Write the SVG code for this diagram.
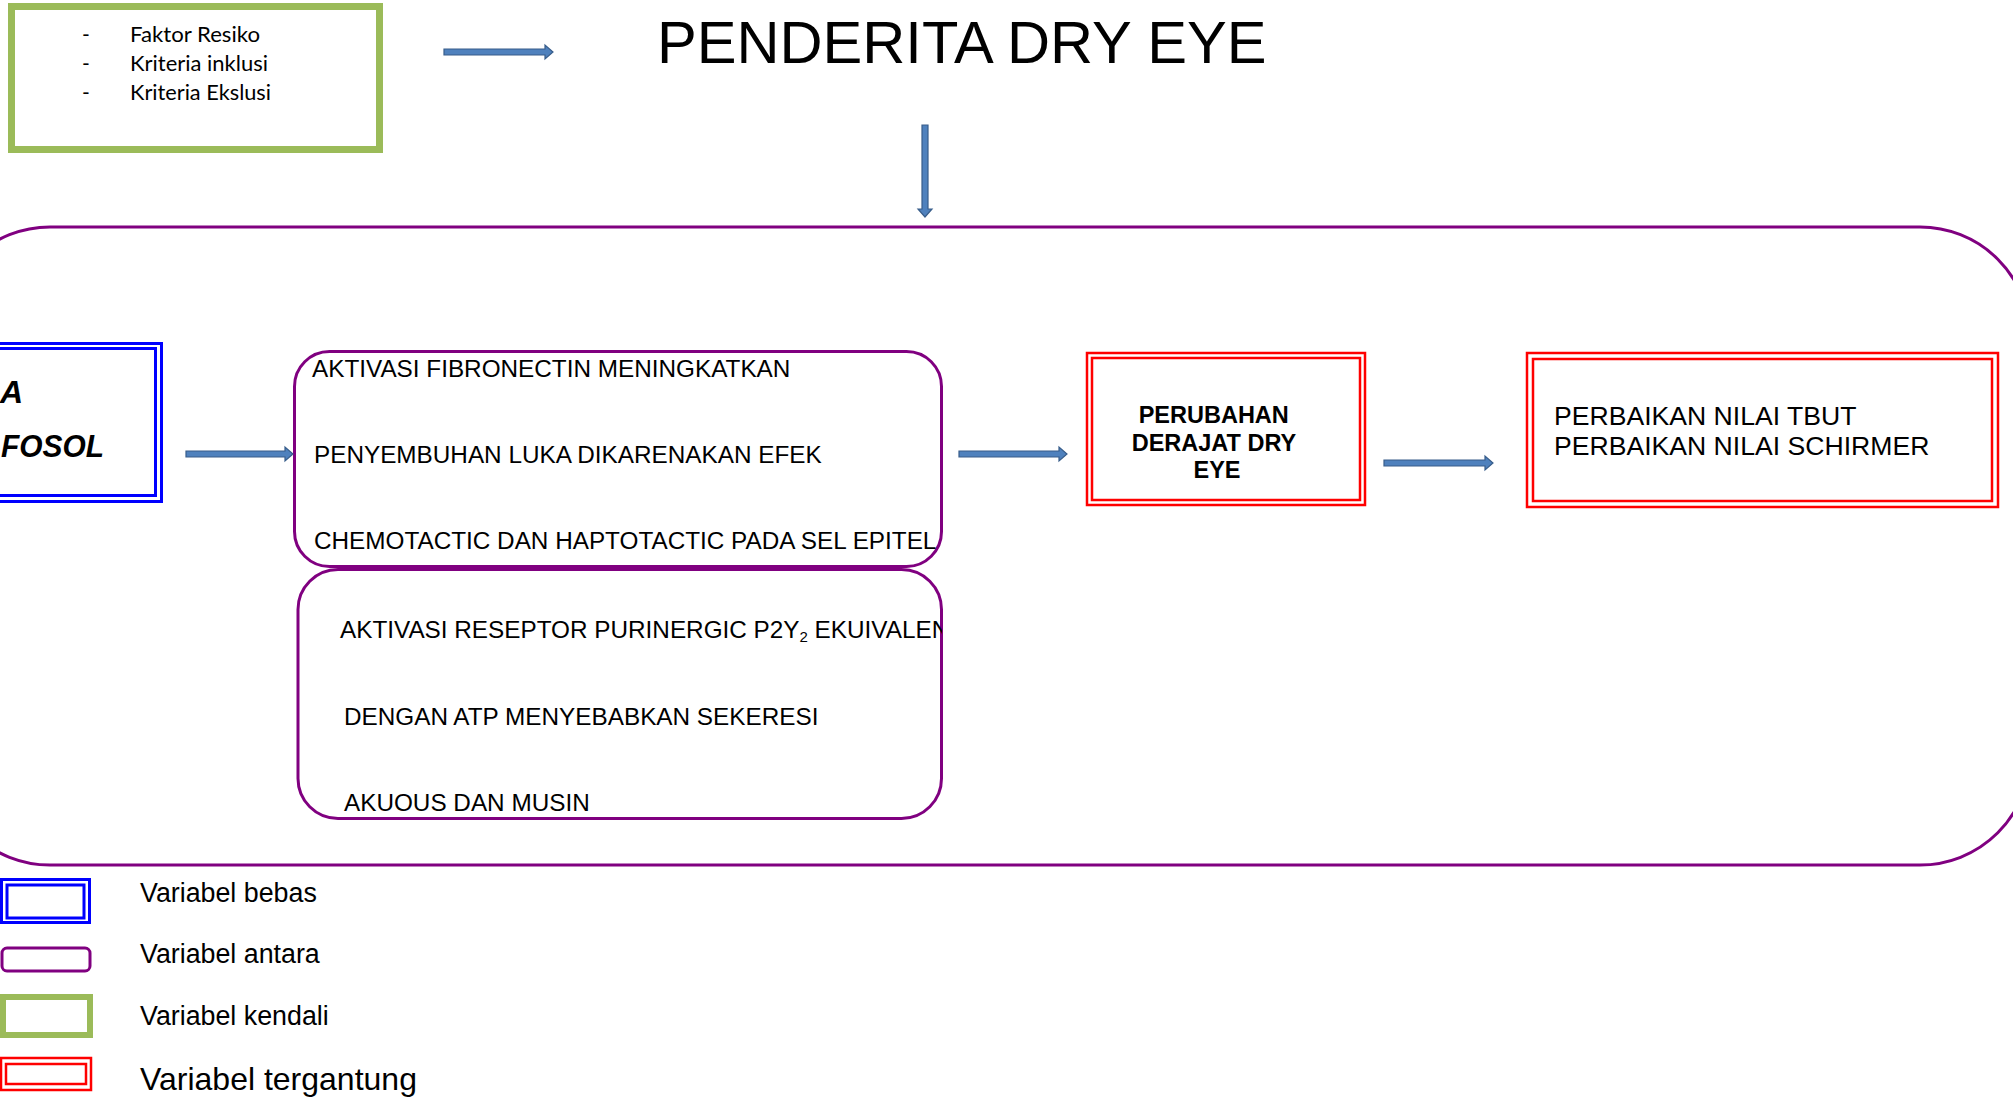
<svg xmlns="http://www.w3.org/2000/svg" width="2013" height="1099" viewBox="0 0 2013 1099">
<style>
.ar{fill:#4F81BD;stroke:#385D8A;stroke-width:1.2}
.pu{fill:none;stroke:#800080;stroke-width:3}
.bl{fill:none;stroke:#0000FF;stroke-width:3}
.rd{fill:none;stroke:#FF0000;stroke-width:2.5}
.gr{fill:none;stroke:#9BBB59;stroke-width:7}
.t{font-family:"Liberation Sans",Arial,sans-serif;fill:#000}
.c{font-family:Lato,"Open Sans","Liberation Sans",sans-serif;fill:#000;font-size:21px}
</style>
<defs>
<clipPath id="clip2"><rect x="297" y="568" width="645" height="251" rx="40"/></clipPath>
</defs>
<rect width="2013" height="1099" fill="#fff"/>

<g id="container">
<rect class="pu" x="-60" y="227" width="2090" height="638" rx="110" ry="110"/>
</g>

<g id="kendali">
<rect class="gr" x="11.5" y="6.5" width="368" height="143"/>
<text class="c" x="82" y="42">-</text>
<text class="c" x="130" y="42" textLength="130" lengthAdjust="spacingAndGlyphs">Faktor Resiko</text>
<text class="c" x="82" y="71">-</text>
<text class="c" x="130" y="71" textLength="138" lengthAdjust="spacingAndGlyphs">Kriteria inklusi</text>
<text class="c" x="82" y="100">-</text>
<text class="c" x="130" y="100" textLength="141" lengthAdjust="spacingAndGlyphs">Kriteria Ekslusi</text>
</g>

<g id="title">
<text class="t" x="657" y="63" font-size="59.6">PENDERITA DRY EYE</text>
</g>

<g id="bebas">
<rect class="bl" x="-20" y="343.5" width="181.5" height="158"/>
<rect class="bl" x="-20" y="348.5" width="175.5" height="147"/>
<text class="t" x="0" y="403" font-size="32" font-weight="bold" font-style="italic">A</text>
<text class="t" x="1" y="457" font-size="32" font-weight="bold" font-style="italic" textLength="103" lengthAdjust="spacingAndGlyphs">FOSOL</text>
</g>

<g id="antara1">
<rect class="pu" x="294.5" y="351.5" width="647" height="215" rx="35"/>
<text class="t" x="312" y="377" font-size="24.3">AKTIVASI FIBRONECTIN MENINGKATKAN</text>
<text class="t" x="314" y="463" font-size="24.3">PENYEMBUHAN LUKA DIKARENAKAN EFEK</text>
<text class="t" x="314" y="549" font-size="24.3">CHEMOTACTIC DAN HAPTOTACTIC PADA SEL EPITEL</text>
</g>

<g id="antara2">
<rect class="pu" x="298" y="569.5" width="643.5" height="249" rx="40"/>
<g clip-path="url(#clip2)">
<text class="t" x="340" y="638" font-size="24.3">AKTIVASI RESEPTOR PURINERGIC P2Y<tspan font-size="15" dy="4">2</tspan><tspan dy="-4"> EKUIVALEN</tspan></text>
</g>
<text class="t" x="344" y="725" font-size="24.3">DENGAN ATP MENYEBABKAN SEKERESI</text>
<text class="t" x="344" y="811" font-size="24.3">AKUOUS DAN MUSIN</text>
</g>

<g id="tergantung1">
<rect class="rd" x="1087" y="353" width="278" height="152"/>
<rect class="rd" x="1092" y="358" width="268" height="142"/>
<text class="t" font-size="23.5" font-weight="bold" text-anchor="middle">
<tspan x="1217" y="423">PERUBAHAN</tspan>
<tspan x="1217" y="451">DERAJAT DRY</tspan>
<tspan x="1217" y="478">EYE</tspan>
</text>
</g>

<g id="tergantung2">
<rect class="rd" x="1527" y="353" width="471" height="154"/>
<rect class="rd" x="1533" y="359" width="459" height="142"/>
<text class="t" font-size="26.6">
<tspan x="1554" y="425">PERBAIKAN NILAI TBUT</tspan>
<tspan x="1554" y="455">PERBAIKAN NILAI SCHIRMER</tspan>
</text>
</g>

<g id="connectors">
<polygon class="ar" points="444,49 545,49 545,45 553,52 545,59 545,55 444,55"/>
<polygon class="ar" points="922,125 928,125 928,209 932,209 925,217 918,209 922,209"/>
<polygon class="ar" points="186,451 285,451 285,447 293,454 285,461 285,457 186,457"/>
<polygon class="ar" points="959,451 1059,451 1059,447 1067,454 1059,461 1059,457 959,457"/>
<polygon class="ar" points="1384,460 1485,460 1485,456 1493,463 1485,470 1485,466 1384,466"/>
</g>

<g id="legend">
<rect class="bl" x="1.5" y="879.5" width="88" height="43"/>
<rect class="bl" x="7" y="885" width="77" height="33"/>
<rect class="pu" x="2" y="948" width="88" height="23" rx="5"/>
<rect fill="none" stroke="#9BBB59" stroke-width="6" x="3" y="997" width="87" height="38"/>
<rect class="rd" x="1" y="1058" width="90" height="32"/>
<rect class="rd" x="6" y="1064" width="80" height="20"/>
<text class="t" x="140" y="902" font-size="26.8">Variabel bebas</text>
<text class="t" x="140" y="963" font-size="26.8">Variabel antara</text>
<text class="t" x="140" y="1025" font-size="26.8">Variabel kendali</text>
<text class="t" x="140" y="1090" font-size="32">Variabel tergantung</text>
</g>
</svg>
